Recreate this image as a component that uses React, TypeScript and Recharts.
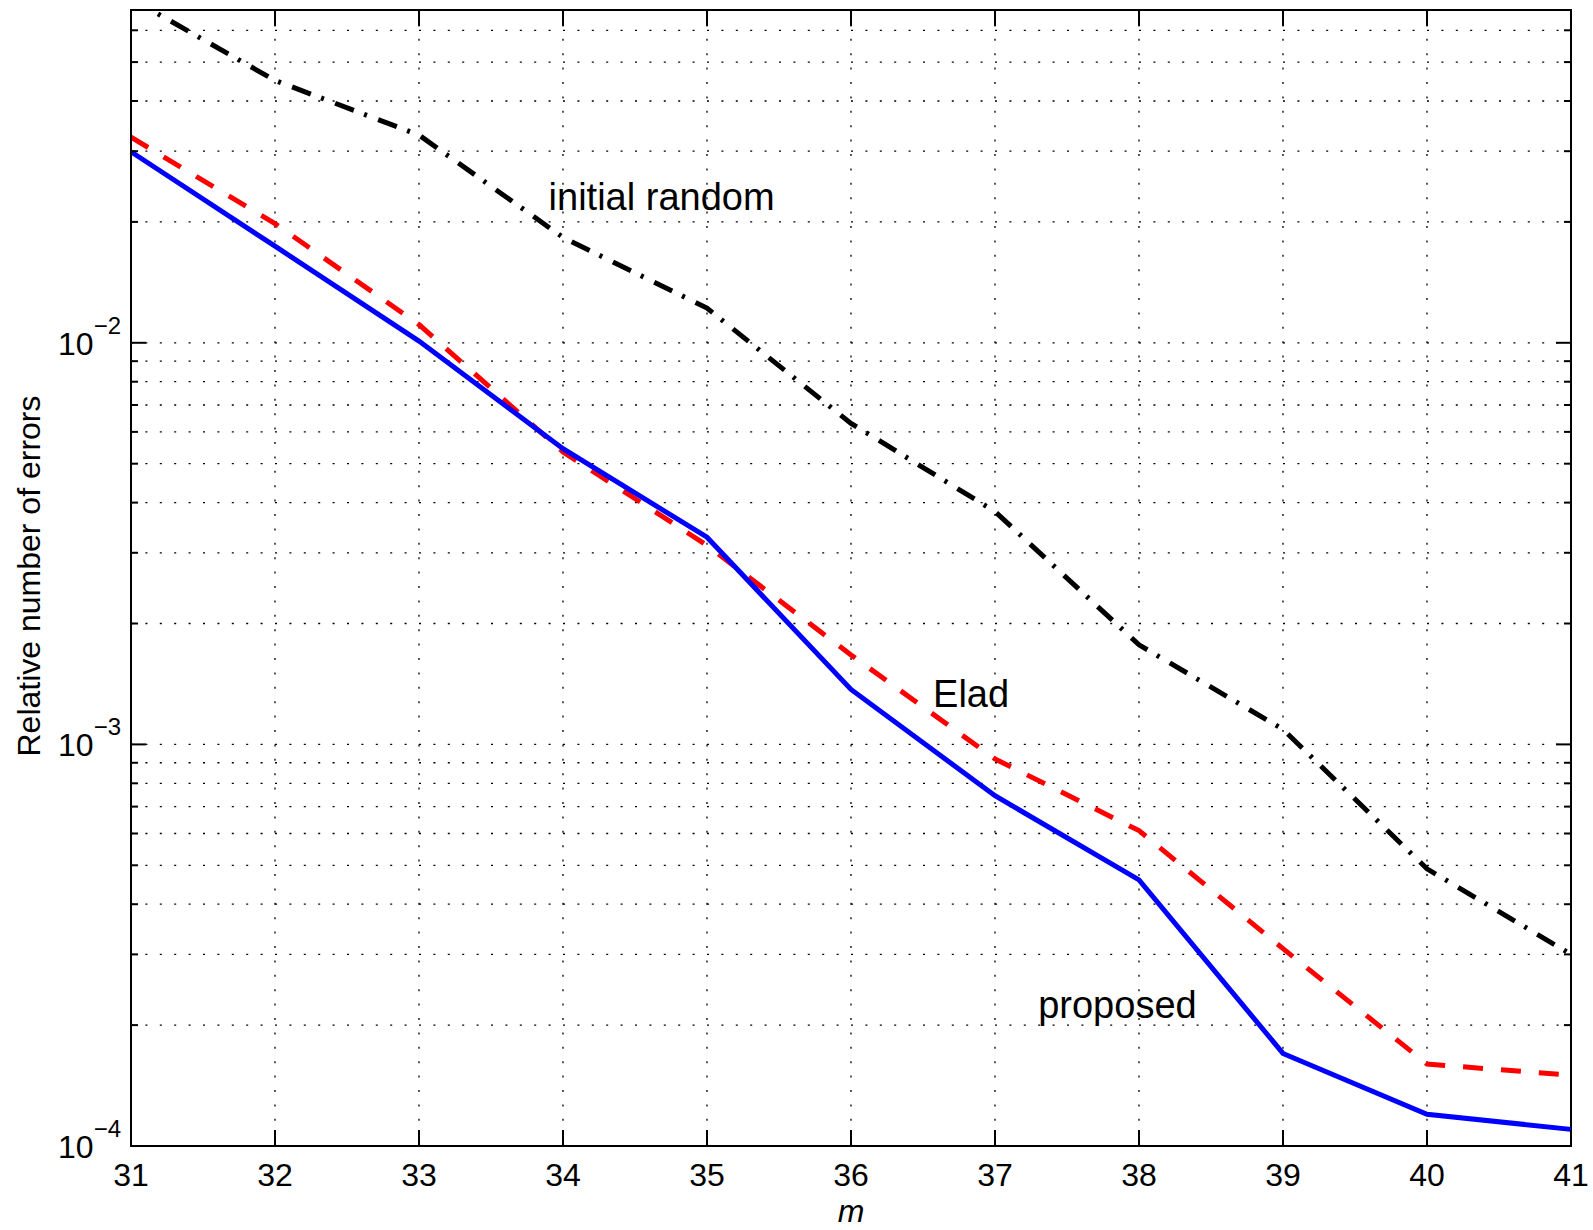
import React from 'react';
import { LineChart, Line, XAxis, YAxis, CartesianGrid, ReferenceDot, ReferenceArea } from 'recharts';

// m values on the x axis
const mValues = [31, 32, 33, 34, 35, 36, 37, 38, 39, 40, 41];

// relative number of errors per method
const proposed = [0.0299, 0.0174, 0.0101, 0.00545, 0.00328, 0.00137, 0.000745, 0.00046, 0.00017, 0.00012, 0.00011];
const elad = [0.0325, 0.0198, 0.0111, 0.00535, 0.00313, 0.00167, 0.00092, 0.00061, 0.00031, 0.00016, 0.00015];
const initialRandom = [0.072, 0.045, 0.0329, 0.0183, 0.0122, 0.0063, 0.0038, 0.00177, 0.00109, 0.00049, 0.0003];

// y ticks (log decades + minor ticks), grid lines follow them
const yTicks = [
	0.0001, 0.0002, 0.0003, 0.0004, 0.0005, 0.0006, 0.0007, 0.0008, 0.0009,
	0.001, 0.002, 0.003, 0.004, 0.005, 0.006, 0.007, 0.008, 0.009,
	0.01, 0.02, 0.03, 0.04, 0.05, 0.06,
];
const yDomain = [0.0001, 0.0674];
const xDomain = [31, 41];

const data = mValues.map((m, i) => ({
	m,
	proposed: proposed[i],
	elad: elad[i],
	initialRandom: initialRandom[i],
}));

const FONT = '"Liberation Sans", Arial, Helvetica, sans-serif';

// layout
const CHART_W = 1593;
const CHART_H = 1230;
const MARGIN = { top: 10, right: 22, left: 0, bottom: 0 };
const Y_AXIS_W = 131;
const X_AXIS_H = 84;
const PLOT_W = CHART_W - Y_AXIS_W - MARGIN.right;
const PLOT_H = CHART_H - MARGIN.top - X_AXIS_H;

const isMajor = (v: number) => {
	const l = Math.log10(v);
	return Math.abs(l - Math.round(l)) < 1e-6;
};

// left tick also draws the mirrored tick on the right edge (MATLAB box style)
const LeftTick = ({ x, y, payload }: any) => {
	const v = payload.value;
	const major = isMajor(v);
	const len = major ? 15 : 7;
	const exp = Math.round(Math.log10(v));
	return (
		<g>
			<line x1={x} y1={y} x2={x + len} y2={y} stroke="#000" strokeWidth={2} />
			<line x1={x + PLOT_W} y1={y} x2={x + PLOT_W - len} y2={y} stroke="#000" strokeWidth={2} />
			{major && (
				<text x={x - 10} y={y + 12} textAnchor="end" fontFamily={FONT} fontSize={32} fill="#000">
					<tspan>10</tspan>
					<tspan dy={-21} fontSize={24}>{'\u2212' + Math.abs(exp)}</tspan>
				</text>
			)}
		</g>
	);
};

const BottomTick = ({ x, y, payload }: any) => (
	<g>
		<line x1={x} y1={y} x2={x} y2={y - 16} stroke="#000" strokeWidth={2} />
		<line x1={x} y1={y - PLOT_H} x2={x} y2={y - PLOT_H + 16} stroke="#000" strokeWidth={2} />
		<text x={x} y={y + 40} textAnchor="middle" fontFamily={FONT} fontSize={32} fill="#000">
			{payload.value}
		</text>
	</g>
);

const YTitle = ({ viewBox }: any) => {
	const cx = 39.5;
	const cy = viewBox.y + viewBox.height / 2 - 2;
	return (
		<text x={cx} y={cy} transform={`rotate(-90, ${cx}, ${cy})`} textAnchor="middle" fontFamily={FONT} fontSize={32} fill="#000">
			Relative number of errors
		</text>
	);
};

const XTitle = ({ viewBox }: any) => (
	<text x={viewBox.x + viewBox.width / 2} y={viewBox.y + 76} textAnchor="middle" fontFamily={FONT} fontSize={32} fontStyle="italic" fill="#000">
		m
	</text>
);

const Note = ({ viewBox, text }: any) => (
	<text x={viewBox.x + 1} y={viewBox.y + 1} textAnchor="start" fontFamily={FONT} fontSize={38} fill="#000">
		{text}
	</text>
);

const App = () => {
	return (
		<div style={{ position: 'absolute', left: 0, top: 0, background: '#fff' }}>
			<LineChart width={CHART_W} height={CHART_H} data={data} margin={MARGIN}>
				<CartesianGrid stroke="#000" strokeWidth={1.3} strokeDasharray="2 12.4" />
				<XAxis
					dataKey="m"
					type="number"
					domain={xDomain}
					ticks={mValues}
					interval={0}
					height={X_AXIS_H}
					tickSize={0}
					tickMargin={0}
					axisLine={{ stroke: '#000', strokeWidth: 2 }}
					tickLine={false}
					tick={<BottomTick />}
					label={<XTitle />}
				/>
				<YAxis
					scale="log"
					type="number"
					domain={yDomain}
					allowDataOverflow
					ticks={yTicks}
					interval={0}
					width={Y_AXIS_W}
					tickSize={0}
					tickMargin={0}
					axisLine={{ stroke: '#000', strokeWidth: 2 }}
					tickLine={false}
					tick={<LeftTick />}
					label={<YTitle />}
				/>
				<Line
					type="linear"
					dataKey="initialRandom"
					stroke="#000"
					strokeWidth={5}
					strokeDasharray="20 11 3 12"
					dot={false}
					isAnimationActive={false}
				/>
				<Line
					type="linear"
					dataKey="elad"
					stroke="#ff0000"
					strokeWidth={5}
					strokeDasharray="20 18"
					dot={false}
					isAnimationActive={false}
				/>
				<Line
					type="linear"
					dataKey="proposed"
					stroke="#0000ff"
					strokeWidth={5}
					dot={false}
					isAnimationActive={false}
				/>
				<ReferenceArea
					x1={xDomain[0]}
					x2={xDomain[1]}
					y1={yDomain[0]}
					y2={yDomain[1]}
					fill="none"
					fillOpacity={0}
					stroke="#000"
					strokeWidth={2}
					ifOverflow="visible"
				/>
				<ReferenceDot x={33.9} y={0.0214} r={1} fill="none" stroke="none" ifOverflow="visible" label={<Note text="initial random" />} />
				<ReferenceDot x={36.57} y={0.001236} r={1} fill="none" stroke="none" ifOverflow="visible" label={<Note text="Elad" />} />
				<ReferenceDot x={37.3} y={0.000208} r={1} fill="none" stroke="none" ifOverflow="visible" label={<Note text="proposed" />} />
			</LineChart>
		</div>
	);
};

export default App;
